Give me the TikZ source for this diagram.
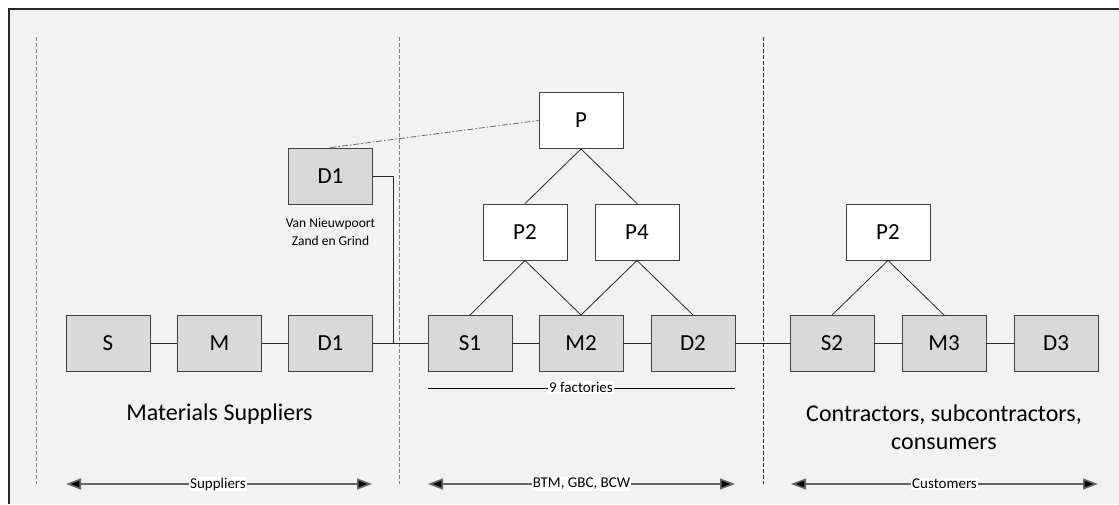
\documentclass[tikz,border=0pt]{standalone}
\usepackage{fontspec}
\setmainfont{Carlito}
\usetikzlibrary{arrows.meta}
\definecolor{panel}{HTML}{F2F2F2}
\definecolor{boxgrey}{HTML}{D9D9D9}
\definecolor{edge}{HTML}{404040}
\definecolor{sepgrey}{HTML}{808080}
\begin{document}
\begin{tikzpicture}[x=1pt,y=-1pt,
  box/.style={draw=edge, line width=0.9pt, minimum width=84pt, minimum height=56pt,
    inner sep=0pt, font=\fontsize{23}{23}\selectfont},
  gbox/.style={box, fill=boxgrey},
  wbox/.style={box, fill=white},
  link/.style={draw=black!85, line width=0.8pt},
  sepline/.style={draw=sepgrey, line width=1.1pt, dash pattern=on 4pt off 2pt},
  sepdark/.style={draw=black!80, line width=0.7pt, dash pattern=on 4pt off 2pt},
  span/.style={draw=black!60, line width=1.6pt, {Triangle[length=15pt,width=11pt,fill=black]}-{Triangle[length=15pt,width=11pt,fill=black]}},
  spanlabel/.style={fill=white, inner sep=1pt, text=black, font=\fontsize{15}{15}\selectfont},
  big/.style={font=\fontsize{24}{24}\selectfont, anchor=base},
  small/.style={font=\fontsize{13.5}{14}\selectfont, anchor=base}
]
\useasboundingbox (0,0) rectangle (1119,504);
% panel with its top and left border
\fill[panel] (9,9) rectangle (1119,504);
\draw[black!85, line width=1.3pt] (9,504) -- (9,9) -- (1119,9);

% section separators
\draw[sepline] (36.5,37) -- (36.5,484);
\draw[sepline] (399.5,37) -- (399.5,484);
\draw[sepdark] (763,37) -- (763,484);

% main chain
\node[gbox] (s)  at (108,343.5) {S};
\node[gbox] (m)  at (219.5,343.5) {M};
\node[gbox] (d1) at (330.5,343.5) {D1};
\node[gbox] (s1) at (470,343.5) {S1};
\node[gbox] (m2) at (581,343.5) {M2};
\node[gbox] (d2) at (693,343.5) {D2};
\node[gbox] (s2) at (832,343.5) {S2};
\node[gbox] (m3) at (944,343.5) {M3};
\node[gbox] (d3) at (1056,343.5) {D3};

% upper nodes
\node[gbox] (d1u) at (330.5,176) {D1};
\node[wbox] (p)   at (581,120.5) {P};
\node[wbox] (p2)  at (525,232) {P2};
\node[wbox] (p4)  at (637,232) {P4};
\node[wbox] (p2r) at (888,232) {P2};

% links along the chain
\draw[link] (s) -- (m);
\draw[link] (m) -- (d1);
\draw[link] (d1) -- (s1);
\draw[link] (s1) -- (m2);
\draw[link] (m2) -- (d2);
\draw[link] (d2) -- (s2);
\draw[link] (s2) -- (m3);
\draw[link] (m3) -- (d3);

% hierarchy links
\draw[link] (p.south) -- (p2.north);
\draw[link] (p.south) -- (p4.north);
\draw[link] (p2.south) -- (s1.north);
\draw[link] (p2.south) -- (m2.north);
\draw[link] (p4.south) -- (m2.north);
\draw[link] (p4.south) -- (d2.north);
\draw[link] (p2r.south) -- (s2.north);
\draw[link] (p2r.south) -- (m3.north);

% supplier D1 joining the factory chain
\coordinate (bend) at (393,176);
\draw[link] (d1u.east) -- (bend) |- (s1.west);
\draw[draw=black!60, line width=0.8pt, dash pattern=on 6pt off 2pt on 1.5pt off 2pt] (d1u.north) -- (p.west);

% labels
\node[small] (vn1) at (330.5,227) {Van Nieuwpoort};
\node[small] (vn2) at (330.5,245) {Zand en Grind};
\node[big] (ms) at (219.5,420) {Materials Suppliers};
\node[big] (cs1) at (944,421) {Contractors, subcontractors,};
\node[big] (cs2) at (944,449) {consumers};

% factories span
\coordinate (fa) at (428,388);
\coordinate (fb) at (735,388);
\draw[black, line width=0.8pt] (fa) -- (fb);
\node[spanlabel] (nf) at (581,387.5) {9 factories};

% section spans
\coordinate (a1) at (66,484);
\coordinate (a2) at (372,484);
\coordinate (b1) at (428,484);
\coordinate (b2) at (735,484);
\coordinate (c1) at (791,484);
\coordinate (c2) at (1098,484);
\draw[span] (a1) -- (a2);
\draw[span] (b1) -- (b2);
\draw[span] (c1) -- (c2);
\node[spanlabel] (ls) at (218,484) {Suppliers};
\node[spanlabel] (lb) at (581.5,484) {BTM, GBC, BCW};
\node[spanlabel] (lc) at (944.5,484) {Customers};
\end{tikzpicture}
\end{document}
